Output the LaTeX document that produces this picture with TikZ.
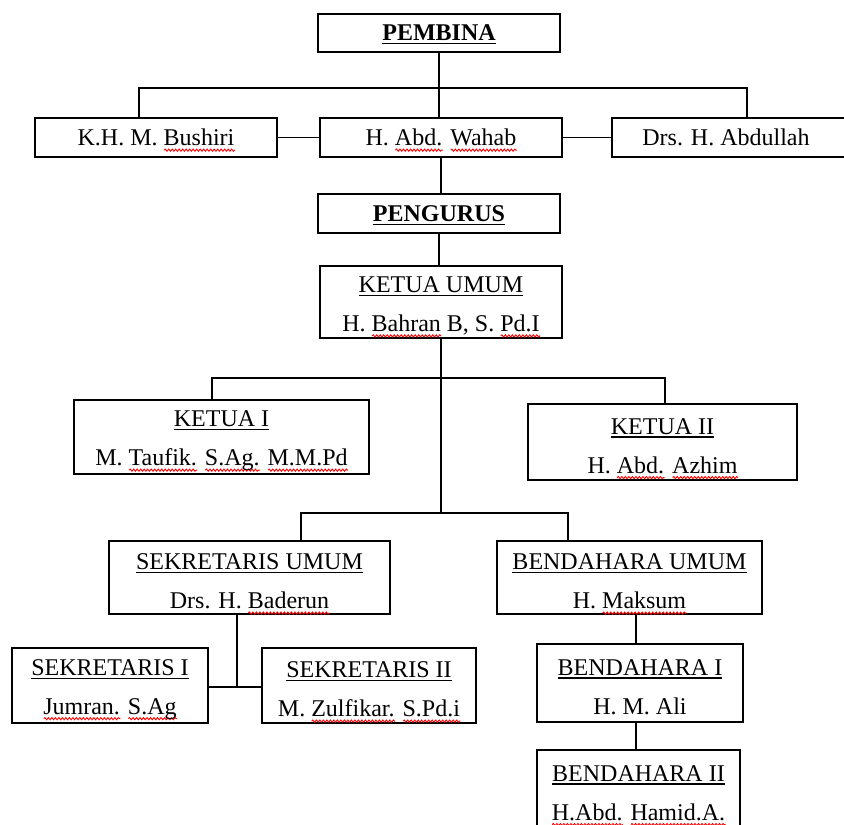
\documentclass[tikz,border=0pt]{standalone}
\usepackage{fontspec}
\setmainfont{Liberation Serif}
\usetikzlibrary{decorations.pathmorphing}
\newlength\ulw
\newlength\sqw
\newcommand\ul[1]{\settowidth\ulw{#1}\rlap{\smash{\rule[-3.5pt]{\ulw}{1.1pt}}}#1}
\newcommand\sq[1]{\settowidth\sqw{#1}\rlap{\smash{\tikz[baseline=0pt,x=1pt,y=1pt]\draw[red,line width=0.9pt,decorate,decoration={snake,amplitude=1.1pt,segment length=3.5pt}] (0,-4.5) -- (\sqw,-4.5);}}#1}
\newcommand\tp{\rule{0pt}{23.5pt}}
\tikzset{
  box/.style={draw=black, line width=1.5pt, inner sep=0pt, align=center,
    font=\fontsize{24}{39}\selectfont},
  link/.style={draw=black, line width=1.5pt}
}
\begin{document}
\begin{tikzpicture}[x=1pt,y=-1pt]
\useasboundingbox (0,0) rectangle (844,825);
% top level
\node[box, minimum width=242, minimum height=38] (pembina) at (439,33) {\textbf{\ul{PEMBINA}}};
\node[box, minimum width=242, minimum height=39] (bushiri) at (156,137.5) {K.H. M. \sq{Bushiri}};
\node[box, minimum width=242, minimum height=39] (wahab) at (441,137.5) {H. \sq{Abd.} \sq{Wahab}};
\node[box, minimum width=242, minimum height=39] (abdullah) at (733,137.5) {Drs. H. Abdullah\hspace{14pt}};
\node[box, minimum width=242, minimum height=39] (pengurus) at (439,213.5) {\textbf{\ul{PENGURUS}}};
\node[box, minimum width=242, minimum height=72] (ku) at (441,302) {\tp\ul{KETUA UMUM}\\H. \sq{Bahran} B, S. \sq{Pd.I}};
\node[box, minimum width=295, minimum height=74] (k1) at (221.5,437) {\tp\ul{KETUA I}\\M. \sq{Taufik.} \sq{S.Ag.} \sq{M.M.Pd}};
\node[box, minimum width=269, minimum height=76] (k2) at (662.5,442) {\tp\ul{KETUA II}\\H. \sq{Abd.} \sq{Azhim}};
\node[box, minimum width=281, minimum height=73] (su) at (249.5,577.5) {\tp\ul{SEKRETARIS UMUM}\\Drs. H. \sq{Baderun}};
\node[box, minimum width=265, minimum height=73] (bu) at (629.5,577.5) {\tp\ul{BENDAHARA UMUM}\\H. \sq{Maksum}};
\node[box, minimum width=196, minimum height=75] (s1) at (110,685.5) {\tp\ul{SEKRETARIS I}\\\sq{Jumran.} \sq{S.Ag}};
\node[box, minimum width=214, minimum height=75] (s2) at (369,685.5) {\tp\ul{SEKRETARIS II}\\M. \sq{Zulfikar.} \sq{S.Pd.i}};
\node[box, minimum width=206, minimum height=78] (b1) at (640,683) {\tp\ul{BENDAHARA I}\\H. M. Ali};
\node[box, minimum width=203, minimum height=78] (b2) at (638.5,789) {\tp\ul{BENDAHARA II}\\\sq{H.Abd.} \sq{Hamid.A.}};
% helper coordinates
\coordinate (hL) at (139,88);
\coordinate (hR) at (747,88);
\coordinate (kL) at (212,378);
\coordinate (kR) at (665,378);
\coordinate (sL) at (301,513);
\coordinate (sR) at (568,513);
\coordinate (sj) at (237,687);
\coordinate (bx) at (636,0);
% connectors
\draw[link] (pembina.south) -- (pembina.south |- wahab.north);
\draw[link] (hL |- bushiri.north) -- (hL) -- (hR) -- (hR |- abdullah.north);
\draw[link] (bushiri.east) -- (wahab.west);
\draw[link] (wahab.east) -- (abdullah.west);
\draw[link] (wahab.south) -- (wahab.south |- pengurus.north);
\draw[link] (pengurus.south) -- (pengurus.south |- ku.north);
\draw[link] (ku.south) -- (ku.south |- sL);
\draw[link] (kL |- k1.north) -- (kL) -- (kR) -- (kR |- k2.north);
\draw[link] (sL |- su.north) -- (sL) -- (sR) -- (sR |- bu.north);
\draw[link] (sj |- su.south) -- (sj);
\draw[link] (s1.east |- sj) -- (s2.west |- sj);
\draw[link] (bx |- bu.south) -- (bx |- b1.north);
\draw[link] (bx |- b1.south) -- (bx |- b2.north);
\end{tikzpicture}
\end{document}
